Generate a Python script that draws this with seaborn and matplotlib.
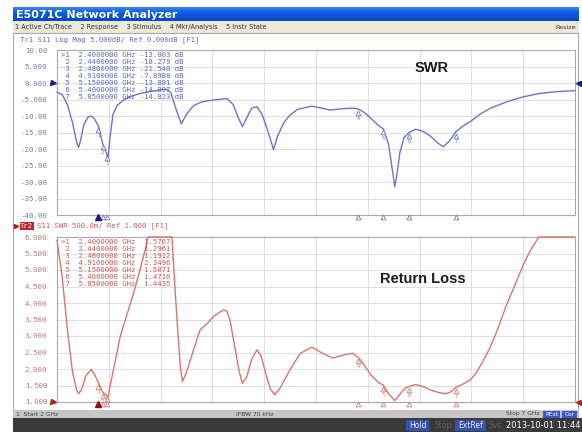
import numpy as np
import matplotlib
matplotlib.use("Agg")
import matplotlib.pyplot as plt
import seaborn as sns
from matplotlib.patches import Rectangle
from matplotlib.colors import LinearSegmentedColormap
from matplotlib.transforms import offset_copy, blended_transform_factory

# S11 log magnitude trace (GHz, dB)
s11_freq = [2.00, 2.05, 2.10, 2.15, 2.19, 2.21, 2.23, 2.26, 2.30, 2.33, 2.36, 2.40,
            2.44, 2.48, 2.49, 2.51, 2.54, 2.58, 2.64, 2.72, 2.80, 2.90, 3.00, 3.06,
            3.10, 3.15, 3.20, 3.25, 3.32, 3.40, 3.50, 3.64, 3.70, 3.75, 3.79, 3.84,
            3.88, 3.93, 3.98, 4.04, 4.09, 4.13, 4.19, 4.25, 4.32, 4.46, 4.55, 4.64,
            4.75, 4.85, 4.91, 4.97, 5.03, 5.10, 5.15, 5.20, 5.24, 5.26, 5.28, 5.31,
            5.35, 5.40, 5.46, 5.53, 5.60, 5.68, 5.73, 5.79, 5.85, 5.92, 5.99, 6.08,
            6.18, 6.34, 6.50, 6.65, 6.83, 7.00]
s11_db = [-2.8, -3.5, -6.5, -12.0, -18.0, -19.5, -17.0, -12.5, -10.3, -10.0, -10.8, -13.0,
          -18.3, -21.5, -23.3, -17.0, -9.5, -6.8, -5.2, -4.0, -3.2, -2.6, -2.1, -1.9,
          -3.0, -8.0, -12.4, -9.5, -6.8, -5.7, -5.2, -4.7, -6.5, -10.5, -13.2, -10.0,
          -7.6, -7.2, -9.5, -15.0, -20.2, -16.0, -12.0, -9.7, -8.0, -7.0, -7.6, -8.2,
          -7.8, -7.6, -7.9, -9.0, -10.7, -12.8, -13.9, -18.5, -27.0, -31.4, -28.0, -21.0,
          -16.5, -15.0, -14.0, -14.6, -16.0, -18.3, -19.3, -17.5, -14.8, -13.0, -11.7, -9.5,
          -7.7, -5.7, -4.2, -3.2, -2.6, -2.3]

# SWR trace (GHz, ratio) as displayed, clipped at the top of the scale
swr_freq = [2.00, 2.05, 2.10, 2.15, 2.19, 2.21, 2.24, 2.28, 2.33, 2.36, 2.40, 2.44,
            2.48, 2.49, 2.52, 2.56, 2.61, 2.68, 2.74, 2.80, 2.85, 2.88, 3.11, 3.13,
            3.16, 3.19, 3.21, 3.25, 3.32, 3.38, 3.45, 3.51, 3.57, 3.61, 3.64, 3.67,
            3.72, 3.76, 3.79, 3.83, 3.88, 3.93, 3.97, 4.02, 4.06, 4.10, 4.15, 4.20,
            4.25, 4.35, 4.46, 4.55, 4.66, 4.76, 4.85, 4.91, 4.97, 5.03, 5.10, 5.15,
            5.20, 5.26, 5.30, 5.36, 5.40, 5.46, 5.53, 5.60, 5.68, 5.75, 5.80, 5.85,
            5.92, 5.99, 6.05, 6.12, 6.18, 6.25, 6.34, 6.44, 6.50, 6.57, 6.65, 7.00]
swr_val = [5.90, 4.80, 3.20, 1.90, 1.35, 1.25, 1.40, 1.80, 1.98, 1.85, 1.58, 1.30,
           1.19, 1.12, 1.60, 2.20, 2.98, 3.70, 4.30, 5.00, 5.60, 6.00, 6.00, 4.90,
           3.40, 2.10, 1.62, 1.90, 2.60, 3.18, 3.38, 3.59, 3.72, 3.79, 3.75, 3.48,
           2.60, 1.90, 1.57, 1.75, 2.30, 2.58, 2.40, 1.80, 1.40, 1.22, 1.40, 1.70,
           1.98, 2.48, 2.66, 2.50, 2.33, 2.42, 2.48, 2.35, 2.10, 1.82, 1.60, 1.51,
           1.25, 1.04, 1.20, 1.42, 1.47, 1.53, 1.47, 1.37, 1.29, 1.25, 1.30, 1.44,
           1.55, 1.67, 1.90, 2.28, 2.65, 3.18, 3.95, 4.69, 5.15, 5.60, 6.00, 6.00]

# marker table
mkr_freq = [2.40, 2.44, 2.48, 4.91, 5.15, 5.40, 5.85]
mkr_db = [-13.003, -18.279, -21.540, -7.8988, -13.881, -14.997, -14.823]
mkr_swr = [1.5767, 1.2961, 1.1912, 2.3496, 1.5071, 1.4710, 1.4435]
mkr_db_txt = ["-13.003", "-18.279", "-21.540", "-7.8988", "-13.881", "-14.997", "-14.823"]
mkr_swr_txt = ["1.5767", "1.2961", "1.1912", "2.3496", "1.5071", "1.4710", "1.4435"]

db_ticks = [10, 5, 0, -5, -10, -15, -20, -25, -30, -35, -40]
db_labels = ["10.00", "5.000", "0.000", "-5.000", "-10.00", "-15.00", "-20.00",
             "-25.00", "-30.00", "-35.00", "-40.00"]
swr_ticks = [6.0, 5.5, 5.0, 4.5, 4.0, 3.5, 3.0, 2.5, 2.0, 1.5, 1.0]
swr_labels = ["6.000", "5.500", "5.000", "4.500", "4.000", "3.500", "3.000",
              "2.500", "2.000", "1.500", "1.000"]

sns.set_style("white")
plt.rcParams["font.family"] = ["DejaVu Sans"]
MONO = "DejaVu Sans Mono"

BLUE = "#7272c4"
BLUE_TXT = "#6464b4"
NAVY = "#1c1c80"
RED = "#d6766e"
RED_TXT = "#c45a5a"
DARKRED = "#8a1010"

W, H = 582, 432
fig = plt.figure(figsize=(W / 100, H / 100), dpi=100)

# window chrome
bg = fig.add_axes([0, 0, 1, 1], zorder=-5)
bg.set_xlim(0, W)
bg.set_ylim(H, 0)
bg.axis("off")
title_cmap = LinearSegmentedColormap.from_list("xp", ["#3d86f0", "#1062e6", "#0a54d8", "#0648c0"])
bg.imshow(np.linspace(0, 1, 30).reshape(-1, 1), cmap=title_cmap, aspect="auto",
          extent=(13, 579, 21, 7), zorder=1)
bg.text(16, 14.5, "E5071C Network Analyzer", color="white", fontsize=8, fontweight="bold",
        va="center", ha="left", zorder=2)
bg.add_patch(Rectangle((13, 21), 566, 12, facecolor="#ece9d8", edgecolor="none", zorder=1))
bg.text(15, 27.5, "1 Active Ch/Trace    2 Response    3 Stimulus    4 Mkr/Analysis    5 Instr State",
        fontsize=4.7, color="#303030", va="center", ha="left", zorder=2)
bg.text(576, 27.5, "Resize", fontsize=4.6, color="#303030", va="center", ha="right", zorder=2)
bg.add_patch(Rectangle((13, 33), 565, 377, facecolor="white", edgecolor="#a8a8a8", lw=0.8, zorder=1))
bg.add_patch(Rectangle((13, 410), 566, 8, facecolor="#c6c6c6", edgecolor="none", zorder=1))
bg.text(16, 414, "1  Start 2 GHz", fontsize=4.3, color="#404040", va="center", zorder=2)
bg.text(255, 414, "IFBW 70 kHz", fontsize=4.3, color="#404040", va="center", ha="center", zorder=2)
bg.text(540, 414, "Stop 7 GHz", fontsize=4.3, color="#404040", va="center", ha="right", zorder=2)
for x0, w, lab in [(543, 17, "PExt"), (562, 15, "Cor")]:
    bg.add_patch(Rectangle((x0, 410.5), w, 7, facecolor="#3a58c8", edgecolor="none", zorder=2))
    bg.text(x0 + w / 2, 414, lab, fontsize=4.2, color="white", va="center", ha="center", zorder=3)
bg.add_patch(Rectangle((13, 418), 569, 14, facecolor="#3a3a3a", edgecolor="none", zorder=1))
for x0, w, lab in [(406, 23, "Hold"), (455, 31, "ExtRef")]:
    bg.add_patch(Rectangle((x0, 419.5), w, 11.5, facecolor="#3552a8", edgecolor="none", zorder=2))
    bg.text(x0 + w / 2, 425.5, lab, fontsize=5.5, color="#e8e8f4", va="center", ha="center", zorder=3)
bg.text(443, 425.5, "Stop", fontsize=5.5, color="#5e5e5e", va="center", ha="center", zorder=2)
bg.text(495, 425.5, "Svc", fontsize=5.5, color="#5e5e5e", va="center", ha="center", zorder=2)
bg.text(580, 425.5, "2013-10-01 11:44", fontsize=6, color="white", va="center", ha="right", zorder=2)

# trace headers
bg.text(20, 40, "Tr1 S11 Log Mag 5.000dB/ Ref 0.000dB [F1]", family=MONO, fontsize=5.2,
        color=BLUE_TXT, va="center", zorder=2)
bg.plot([16], [226], marker=">", ms=3, color="#b02020", zorder=2)
bg.add_patch(Rectangle((19.5, 222), 14, 8, facecolor="#c02828", edgecolor="none", zorder=2))
bg.text(26.5, 226, "Tr2", family=MONO, fontsize=5.2, color="white", va="center", ha="center", zorder=3)
bg.text(37, 226, "S11 SWR 500.0m/ Ref 1.000 [F1]", family=MONO, fontsize=5.2,
        color=RED_TXT, va="center", zorder=2)

ax1 = fig.add_axes([57 / W, (H - 215) / H, 518 / W, 165 / H])
ax2 = fig.add_axes([57 / W, (H - 402) / H, 518 / W, 165 / H])

sns.lineplot(x=s11_freq, y=s11_db, ax=ax1, color=BLUE, lw=1.0, estimator=None, sort=False, zorder=3)
sns.lineplot(x=swr_freq, y=swr_val, ax=ax2, color=RED, lw=1.0, estimator=None, sort=False, zorder=3)

panels = [
    (ax1, (-40, 10), db_ticks, db_labels, "#7c7c98", BLUE, NAVY, mkr_db, mkr_db_txt, " dB", 0.0),
    (ax2, (1.0, 6.0), swr_ticks, swr_labels, "#b07a7a", RED, DARKRED, mkr_swr, mkr_swr_txt, "", 1.0),
]
for ax, ylim, ticks, labels, lab_col, col, dark, mvals, mtxt, unit, ref in panels:
    ax.set_xlim(2, 7)
    ax.set_ylim(*ylim)
    ax.set_xticks(np.linspace(2, 7, 11))
    ax.set_xticklabels([])
    ax.set_yticks(ticks)
    ax.set_yticklabels(labels, family=MONO, fontsize=5.4, color=lab_col)
    ax.tick_params(length=0, pad=7)
    ax.grid(True, color="#dadada", lw=0.6)
    ax.set_axisbelow(True)
    ax.set_facecolor("white")
    for sp in ax.spines.values():
        sp.set_color("#a8a8a8")
        sp.set_linewidth(0.8)
    for ln in ax.lines:
        ln.set_clip_on(False)

    # markers on the trace
    trans = offset_copy(ax.transData, fig=fig, x=0, y=-2.6, units="points")
    ax.plot(mkr_freq, mvals, linestyle="none", marker="^", ms=3.4, mfc="white", mec=col,
            mew=0.6, transform=trans, zorder=4, clip_on=False)
    for i, (f, v) in enumerate(zip(mkr_freq, mvals)):
        ax.annotate(str(i + 1), xy=(f, v), xytext=(0, -5), textcoords="offset points",
                    ha="center", va="top", fontsize=3.8, color=col, family=MONO, zorder=4)

    # stimulus markers below the grid
    bt = blended_transform_factory(ax.transData, ax.transAxes)
    ax.plot(mkr_freq[1:], [-0.012] * 6, linestyle="none", marker="^", ms=3.4, mfc="white",
            mec=col, mew=0.6, transform=bt, clip_on=False, zorder=5)
    ax.plot(mkr_freq[:1], [-0.012], linestyle="none", marker="^", ms=3.8, color=dark,
            transform=bt, clip_on=False, zorder=6)

    # reference position arrows
    rt = blended_transform_factory(ax.transAxes, ax.transData)
    ax.plot([-0.007], [ref], marker=">", ms=3.6, color=dark if ax is ax1 else "#b02020",
            transform=rt, clip_on=False, zorder=6)
    ax.plot([1.005], [ref], marker="<", ms=3.6, color=dark if ax is ax1 else "#b02020",
            transform=rt, clip_on=False, zorder=6)

    # marker readout table
    for i, (f, t) in enumerate(zip(mkr_freq, mtxt)):
        head = ">1" if i == 0 else " %d" % (i + 1)
        gap = " " if unit else "  "
        line = "%s  %.7f GHz%s%s%s" % (head, f, gap, t, unit)
        ax.text(0.008, 0.97 - i * 0.0425, line, transform=ax.transAxes, family=MONO,
                fontsize=5.2, color=BLUE_TXT if ax is ax1 else RED_TXT, va="center", zorder=5)

ax1.text(5.62, 4.5, "SWR", fontsize=10.5, fontweight="bold", family="Liberation Sans",
         color="#1a1a1a", ha="center", va="center")
ax2.text(5.53, 4.73, "Return Loss", fontsize=10.5, fontweight="bold", family="Liberation Sans",
         color="#1a1a1a", ha="center", va="center")

fig.savefig("out.png", dpi=100)
